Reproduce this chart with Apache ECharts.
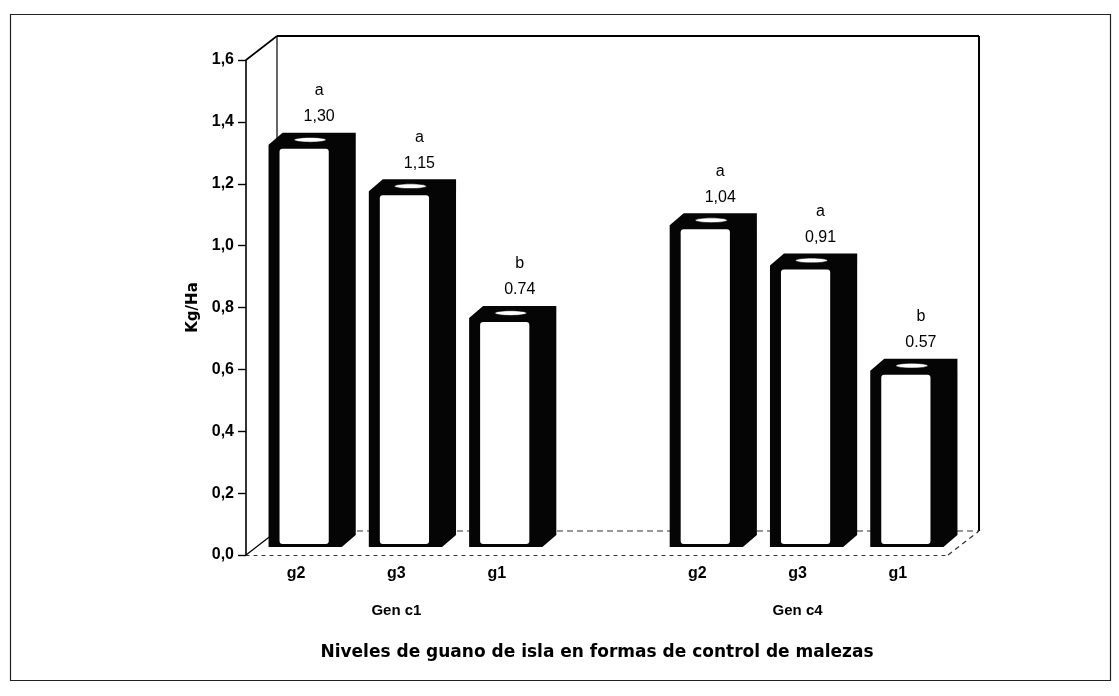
<!DOCTYPE html>
<html>
<head>
<meta charset="utf-8">
<script src="https://cdn.jsdelivr.net/npm/echarts@6/dist/echarts.min.js"></script>
<style>
  html, body { margin: 0; padding: 0; background: #fff; }
  #chart { width: 1119px; height: 696px; }
</style>
</head>
<body>
<div id="chart"></div>
<script>
// Categories along the x axis (blank slot separates the two groups)
const categories = ['g2', 'g3', 'g1', '', 'g2', 'g3', 'g1'];
const groupLabels = ['', 'Gen c1', '', '', '', 'Gen c4', ''];
// Yield per treatment (Kg/Ha)
const values = [1.30, 1.15, 0.74, null, 1.04, 0.91, 0.57];
// Significance letters and printed values above each bar
const letters = ['a', 'a', 'b', '', 'a', 'a', 'b'];
const valueLabels = ['1,30', '1,15', '0.74', '', '1,04', '0,91', '0.57'];
const yTicks = [0, 0.2, 0.4, 0.6, 0.8, 1.0, 1.2, 1.4, 1.6];

const WALL_DX = 31, WALL_DY = -24;   // depth of the 3D box walls
const SET_DX = 9, SET_DY = -8;       // bars stand slightly back on the floor
const BAR_DX = 14, BAR_DY = -12;     // depth of each bar

const barData = [];
values.forEach((v, i) => {
  if (v !== null) barData.push([i, v, letters[i], valueLabels[i]]);
});

const chart = echarts.init(document.getElementById('chart'), null, { renderer: 'canvas' });

function renderWalls(params) {
  const c = params.coordSys;
  const x = c.x, y = c.y, w = c.width, h = c.height;
  const bx = x + WALL_DX, by = y + WALL_DY;
  return {
    type: 'group',
    children: [
      { type: 'line', shape: { x1: bx, y1: by, x2: bx, y2: by + h }, style: { stroke: '#000', lineWidth: 1.2 } },
      { type: 'line', shape: { x1: bx, y1: by, x2: bx + w, y2: by }, style: { stroke: '#000', lineWidth: 2.2 } },
      { type: 'line', shape: { x1: bx + w, y1: by, x2: bx + w, y2: by + h }, style: { stroke: '#000', lineWidth: 2 } },
      { type: 'line', shape: { x1: x, y1: y, x2: bx, y2: by }, style: { stroke: '#000', lineWidth: 1.6 } },
      { type: 'line', shape: { x1: bx, y1: by + h, x2: bx + w, y2: by + h }, style: { stroke: '#333', lineWidth: 1.2, lineDash: [6, 4] } },
      { type: 'line', shape: { x1: x, y1: y + h, x2: bx, y2: by + h }, style: { stroke: '#000', lineWidth: 1.2 } },
      { type: 'line', shape: { x1: x + w, y1: y + h, x2: bx + w, y2: by + h }, style: { stroke: '#333', lineWidth: 1.2, lineDash: [5, 4] } }
    ]
  };
}

function renderBar(params, api) {
  const idx = api.value(0);
  const v = api.value(1);
  const top = api.coord([idx, v]);
  const base = api.coord([idx, 0]);
  const band = api.size([1, 0])[0];
  const w = band * 0.73;
  const x0 = top[0] - w / 2 + SET_DX;
  const x1 = x0 + w;
  const yt = top[1] + SET_DY;
  const yb = base[1] + SET_DY;
  const cx = (x0 + x1) / 2;
  const letter = barData[params.dataIndex][2];
  const label = barData[params.dataIndex][3];
  const font = '16px "Liberation Sans", Arial, sans-serif';
  return {
    type: 'group',
    children: [
      {
        type: 'polygon',
        shape: { points: [[x0, yb], [x0, yt], [x0 + BAR_DX, yt + BAR_DY], [x1 + BAR_DX, yt + BAR_DY], [x1 + BAR_DX, yb + BAR_DY], [x1, yb]] },
        style: { fill: '#050505' }
      },
      {
        type: 'rect',
        shape: { x: x0 + 11, y: yt + 4, width: w - 24, height: yb - yt - 7, r: 3 },
        style: { fill: '#fff' }
      },
      {
        type: 'ellipse',
        shape: { cx: cx + 5, cy: yt - 5, rx: 16, ry: 2.4 },
        style: { fill: '#fff', stroke: '#000', lineWidth: 0.6 }
      },
      {
        type: 'text',
        style: { text: letter, x: cx + 14, y: yt + BAR_DY - 42, align: 'center', verticalAlign: 'middle', font: font, fill: '#000' }
      },
      {
        type: 'text',
        style: { text: label, x: cx + 14, y: yt + BAR_DY - 16, align: 'center', verticalAlign: 'middle', font: font, fill: '#000' }
      }
    ]
  };
}

const option = {
  backgroundColor: '#fff',
  animation: false,
  graphic: [
    { type: 'rect', left: 8, top: 12, shape: { width: 1100, height: 666 },
      style: { fill: 'none', stroke: '#222', lineWidth: 1.2 }, z: -1 }
  ],
  grid: { left: 246, top: 60, width: 702, height: 495 },
  xAxis: [
    {
      type: 'category',
      data: categories,
      boundaryGap: true,
      axisLine: { show: true, lineStyle: { color: '#333', width: 1.2, type: [3, 5] } },
      axisTick: { show: false },
      axisLabel: { color: '#000', fontSize: 16, fontWeight: 'bold', margin: 11,
                   fontFamily: '"Liberation Sans", Arial, sans-serif', interval: 0 },
      splitLine: { show: false }
    },
    {
      type: 'category',
      data: groupLabels,
      position: 'bottom',
      offset: 40,
      gridIndex: 0,
      axisLine: { show: false },
      axisTick: { show: false },
      axisLabel: { color: '#000', fontSize: 15, fontWeight: 'bold', margin: 8, interval: 0,
                   fontFamily: '"Liberation Sans", Arial, sans-serif' },
      name: 'Niveles de guano de isla en formas de control de malezas',
      nameLocation: 'middle',
      nameGap: 49,
      nameTextStyle: { color: '#000', fontSize: 17, fontWeight: 'bold', fontFamily: '"DejaVu Sans", sans-serif' }
    }
  ],
  yAxis: {
    type: 'value',
    min: 0,
    max: 1.6,
    interval: 0.2,
    name: 'Kg/Ha',
    nameLocation: 'middle',
    nameRotate: 90,
    nameGap: 45,
    nameTextStyle: { color: '#000', fontSize: 15, fontWeight: 'bold', fontFamily: '"DejaVu Sans", sans-serif' },
    axisLine: { show: true, lineStyle: { color: '#000', width: 1.6 } },
    axisTick: { show: true, length: 8, lineStyle: { color: '#000', width: 1.4 } },
    axisLabel: {
      color: '#000', fontSize: 16, fontWeight: 'bold', margin: 12,
      fontFamily: '"Liberation Sans", Arial, sans-serif',
      formatter: (v) => {
        const t = yTicks.find(k => Math.abs(k - v) < 1e-9);
        return (t !== undefined ? t : v).toFixed(1).replace('.', ',');
      }
    },
    splitLine: { show: false }
  },
  series: [
    {
      type: 'custom',
      name: 'walls',
      xAxisIndex: 0,
      yAxisIndex: 0,
      data: [[0, 0]],
      renderItem: renderWalls,
      z: 1,
      silent: true
    },
    {
      type: 'custom',
      name: 'Kg/Ha',
      xAxisIndex: 0,
      yAxisIndex: 0,
      data: barData.map(d => [d[0], d[1]]),
      encode: { x: 0, y: 1 },
      renderItem: renderBar,
      z: 3
    }
  ]
};

chart.setOption(option);
</script>
</body>
</html>
